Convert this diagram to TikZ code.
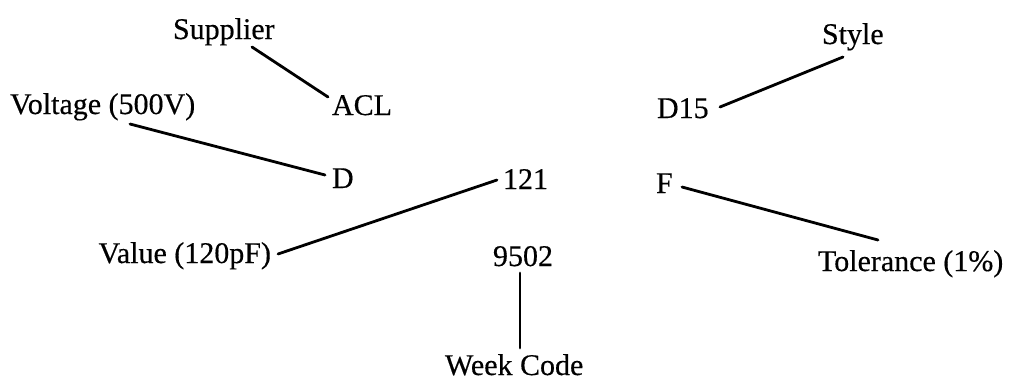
\documentclass[tikz,border=0pt]{standalone}
\usepackage{fontspec}
\setmainfont{Liberation Serif}[FakeBold=0.4]
\usetikzlibrary{calc}
\tikzset{
  lbl/.style={inner sep=0pt, outer sep=0pt, font=\fontsize{30}{36}\selectfont, anchor=base west},
  lead/.style={line width=2.8pt, line cap=round, black}
}
\begin{document}
\begin{tikzpicture}[x=1pt,y=-1pt]
\useasboundingbox (0,0) rectangle (1015,381);
% labels (image coordinates, y downward)
\node[lbl] (sup)   at (173,39)  {Supplier};
\node[lbl] (acl)   at (332,115) {ACL};
\node[lbl] (volt)  at (10,114)  {Voltage (500V)};
\node[lbl] (dd)    at (332,188) {D};
\node[lbl] (n121)  at (503,189) {121};
\node[lbl,anchor=base east] (val) at (271,263) {Value (120pF)};
\node[lbl] (n9502) at (493,266) {9502};
\node[lbl] (week)  at (445,375) {Week Code};
\node[lbl] (style) at (822,44)  {Style};
\node[lbl] (d15)   at (657,118) {D15};
\node[lbl] (ff)    at (656,193) {F};
\node[lbl] (tol)   at (818,271) {Tolerance (1\%)};
% leader lines
\draw[lead] ($(sup.base west)+(79,8)$) -- ($(acl.base west)+(-4,-18)$);
\draw[lead] ($(volt.base west)+(120,10)$) -- ($(dd.base west)+(-7,-13)$);
\draw[lead] ($(n121.base west)+(-6,-9)$) -- ($(val.base east)+(7,-9)$);
\draw[lead] ($(n9502.base west)+(27,7)$) -- ($(week.base west)+(75,-27)$);
\draw[lead] ($(style.base west)+(21,13)$) -- ($(d15.base west)+(63,-11)$);
\draw[lead] ($(ff.base west)+(26,-6)$) -- ($(tol.base west)+(60,-31)$);
\end{tikzpicture}
\end{document}
